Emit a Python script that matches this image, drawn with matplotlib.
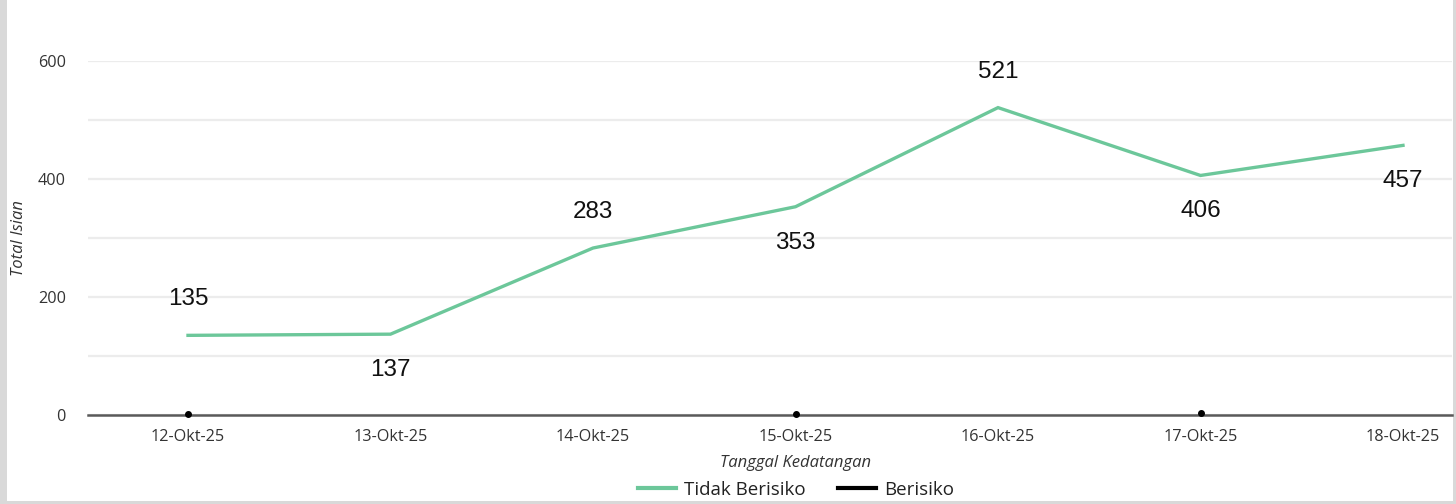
import matplotlib
matplotlib.use("Agg")
import matplotlib.pyplot as plt
from matplotlib.patches import Rectangle
from matplotlib.lines import Line2D
import numpy as np

# Data
dates = ["12-Okt-25", "13-Okt-25", "14-Okt-25", "15-Okt-25", "16-Okt-25", "17-Okt-25", "18-Okt-25"]
tidak_berisiko = [135, 137, 283, 353, 521, 406, 457]
berisiko = [2, np.nan, np.nan, 2, np.nan, 4, np.nan]
label_side = ["above", "below", "above", "below", "above", "below", "below"]
y_major = [0, 200, 400, 600]
y_minor = [100, 300, 500]

W, H = 1456, 504
fig = plt.figure(figsize=(W / 100, H / 100), dpi=100, facecolor="#d9d9d9")
fig.patches.append(Rectangle((7 / W, 3 / H), (1453 - 7) / W, 1 - 3 / H,
                             transform=fig.transFigure, facecolor="white",
                             edgecolor="none", zorder=-10))

ax = fig.add_axes([88 / W, (H - 415) / H, (1452 - 88) / W, (415 - 61) / H])
ax.set_facecolor("none")

green = "#6cc79a"
x = np.arange(len(dates))
ax.plot(x, tidak_berisiko, color=green, lw=2.4, solid_joinstyle="miter", zorder=3)
ax.plot(x, berisiko, color="black", lw=2, marker="o", markersize=4, zorder=4, clip_on=False)

for xi, v, side in zip(x, tidak_berisiko, label_side):
    dy = 36 if side == "above" else -36
    ax.annotate(str(v), (xi, v), xytext=(0, dy), textcoords="offset pixels",
                ha="center", va="center", fontsize=17.5,
                family="Liberation Sans", color="#111111", annotation_clip=False)

ax.set_xlim(-100 / 202.5, 6 + 49 / 202.5)
ax.set_ylim(0, 600)
ax.set_yticks(y_major)
ax.set_yticks(y_minor, minor=True)
ax.set_xticks(x)
ax.set_xticklabels(dates)
ax.grid(True, which="both", axis="y", color="#ececec", lw=1.6, zorder=0)
ax.tick_params(axis="both", which="both", length=0, labelsize=11.7,
               labelcolor="#333333")
ax.tick_params(axis="x", pad=10)
ax.tick_params(axis="y", pad=16)
for lab in ax.get_xticklabels() + ax.get_yticklabels():
    lab.set_family("Open Sans")

for s in ["left", "right", "top"]:
    ax.spines[s].set_visible(False)
ax.spines["bottom"].set_color("#5a5a5a")
ax.spines["bottom"].set_linewidth(1.8)
ax.spines["bottom"].set_zorder(2)

ax.set_xlabel("Tanggal Kedatangan", family="Open Sans", style="italic",
              fontsize=12, color="#333333")
ax.xaxis.set_label_coords((795.5 - 88) / (1452 - 88), -(455 - 415) / (415 - 61))
ax.set_ylabel("Total Isian", family="Open Sans", style="italic",
              fontsize=12, color="#333333")
ax.yaxis.set_label_coords(-(88 - 27) / (1452 - 88), (415 - 238) / (415 - 61))

handles = [Line2D([], [], color=green, lw=3), Line2D([], [], color="black", lw=3)]
fig.legend(handles, ["Tidak Berisiko", "Berisiko"], loc="center",
           bbox_to_anchor=(796 / W, 14 / H), ncol=2, frameon=False,
           prop={"family": "Open Sans", "size": 13.5}, handlelength=2.0,
           handletextpad=0.43, columnspacing=1.75, labelcolor="#222222",
           borderpad=0, borderaxespad=0)

fig.savefig("out.png", dpi=100, facecolor=fig.get_facecolor())
